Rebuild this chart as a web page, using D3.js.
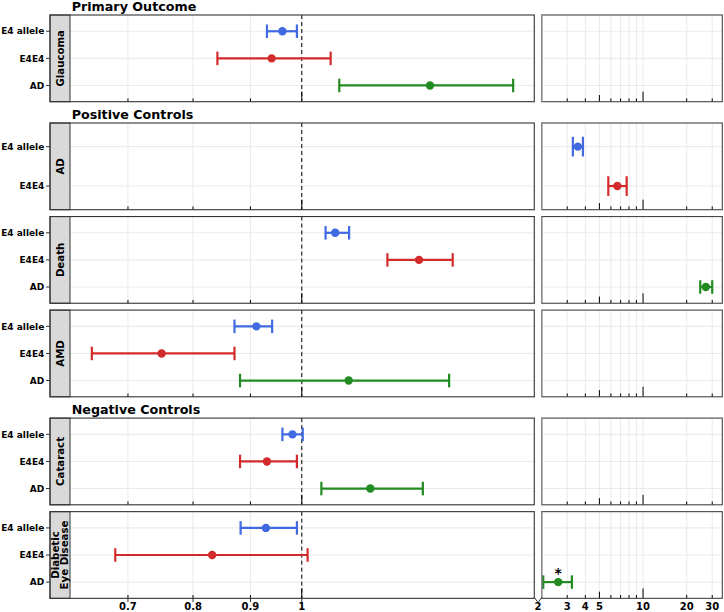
<!DOCTYPE html>
<html><head><meta charset="utf-8">
<script src="https://cdn.jsdelivr.net/npm/d3@7"></script>
<style>
body{margin:0;background:#fff}
text{font-family:"DejaVu Sans",sans-serif;font-weight:bold;fill:#000}
</style>
</head><body><svg id="c" width="724" height="612"></svg>
<script>
// ---------- data ----------
const panelOutcomes = ["Glaucoma","AD","Death","AMD","Cataract","Diabetic Eye Disease"];
const panelStripLines = [["Glaucoma"],["AD"],["Death"],["AMD"],["Cataract"],["Diabetic","Eye Disease"]];
const sectionTitles = ["Primary Outcome","Positive Controls","Negative Controls"];
const sectionFirstPanel = ["Glaucoma","AD","Cataract"];
const exposureLevels = ["E4 allele","E4E4","AD"];
const rowOutcome  = ["Glaucoma","Glaucoma","Glaucoma","AD","AD","Death","Death","Death","AMD","AMD","AMD","Cataract","Cataract","Cataract","Diabetic Eye Disease","Diabetic Eye Disease","Diabetic Eye Disease"];
const rowExposure = ["E4 allele","E4E4","AD","E4 allele","E4E4","E4 allele","E4E4","AD","E4 allele","E4E4","AD","E4 allele","E4E4","AD","E4 allele","E4E4","AD"];
const rowOR   = [0.961,0.940,1.301,3.55,6.65,1.071,1.272,27.1,0.911,0.750,1.101,0.981,0.931,1.151,0.929,0.832,2.60];
const rowLow  = [0.931,0.841,1.080,3.28,5.76,1.050,1.192,24.8,0.871,0.650,0.881,0.961,0.881,1.041,0.882,0.682,2.05];
const rowHigh = [0.990,1.061,1.543,3.85,7.71,1.102,1.363,30.0,0.941,0.871,1.353,1.002,0.990,1.282,0.990,1.012,3.23];
const rowStar = [false,false,false,false,false,false,false,false,false,false,false,false,false,false,false,false,true];
const leftTicks = [0.7,0.8,0.9,1];
const leftLogTicks = [0.7,0.8,0.9,1];
const rightTickLabels = [2,3,4,5,10,20,30];
const rightGrid = [3,4,5,6,7,8,9,10,20,30];
const colors = {"E4 allele":"#4169E1","E4E4":"#D32B2B","AD":"#228B22"};

// ---------- layout ----------
const svg = d3.select("#c");
const stripX0 = 50, stripX1 = 70, leftX1 = 534.3, rightX0 = 541.7, rightX1 = 722.3;
const panelH = 86.7, gap = 6.85, sectionGap = 21.3, firstTop = 15;
const xL = d3.scaleLog().domain([0.6215, 1.6114]).range([stripX1, leftX1]);
const xR = d3.scaleLog().domain([2, 35.2]).range([rightX0, rightX1]);
const breakVal = 1.8;

let tops = [];
let t = firstTop;
panelOutcomes.forEach((o,i)=>{
  if(i>0){ t += panelH + (sectionFirstPanel.includes(o) ? sectionGap : gap); }
  tops.push(t);
});

const gridColor = "#ebebeb", borderColor = "#333";

// section titles
sectionTitles.forEach((s,i)=>{
  const pi = panelOutcomes.indexOf(sectionFirstPanel[i]);
  svg.append("text").attr("x", stripX1 + 1.7).attr("y", tops[pi] - 4.2)
    .attr("font-size", 12.7).text(s);
});

panelOutcomes.forEach((o,pi)=>{
  const top = tops[pi], bot = top + panelH;
  const idx = rowOutcome.map((r,i)=>r===o?i:-1).filter(i=>i>=0);
  const levels = exposureLevels.filter(l => idx.some(i=>rowExposure[i]===l));
  const y = d3.scalePoint().domain(levels).range([top, bot]).padding(0.6);
  const step = y.step();
  const g = svg.append("g");

  // backgrounds
  g.append("rect").attr("x", stripX1).attr("y", top).attr("width", leftX1-stripX1).attr("height", panelH).attr("fill","#fff");
  g.append("rect").attr("x", rightX0).attr("y", top).attr("width", rightX1-rightX0).attr("height", panelH).attr("fill","#fff");

  // gridlines
  levels.forEach(l=>{
    g.append("line").attr("x1", stripX1).attr("x2", leftX1).attr("y1", y(l)).attr("y2", y(l)).attr("stroke", gridColor).attr("stroke-width",1.1);
    g.append("line").attr("x1", rightX0).attr("x2", rightX1).attr("y1", y(l)).attr("y2", y(l)).attr("stroke", gridColor).attr("stroke-width",1.1);
  });
  leftTicks.forEach(v=>{
    g.append("line").attr("x1", xL(v)).attr("x2", xL(v)).attr("y1", top).attr("y2", bot).attr("stroke", gridColor).attr("stroke-width",1.1);
  });
  rightGrid.forEach(v=>{
    g.append("line").attr("x1", xR(v)).attr("x2", xR(v)).attr("y1", top).attr("y2", bot).attr("stroke", gridColor).attr("stroke-width",1.1);
  });

  // dashed reference at 1
  g.append("line").attr("x1", xL(1)).attr("x2", xL(1)).attr("y1", top).attr("y2", bot)
    .attr("stroke","#000").attr("stroke-width",1).attr("stroke-dasharray","4,3");

  // log ticks (inside, bottom)
  leftLogTicks.forEach(v=>{
    const len = (v===1) ? 10 : 3.3;
    g.append("line").attr("x1", xL(v)).attr("x2", xL(v)).attr("y1", bot).attr("y2", bot-len).attr("stroke","#000").attr("stroke-width",1);
  });
  rightGrid.forEach(v=>{
    const len = (v===10) ? 10 : (v===5 ? 6.7 : 3.3);
    g.append("line").attr("x1", xR(v)).attr("x2", xR(v)).attr("y1", bot).attr("y2", bot-len).attr("stroke","#000").attr("stroke-width",1);
  });

  // error bars and points
  idx.forEach(i=>{
    const x = rowOR[i] < breakVal ? xL : xR;
    const yy = y(rowExposure[i]);
    const c = colors[rowExposure[i]];
    const cap = step*0.25;
    g.append("line").attr("x1", x(rowLow[i])).attr("x2", x(rowHigh[i])).attr("y1", yy).attr("y2", yy).attr("stroke", c).attr("stroke-width", 2.2);
    [rowLow[i], rowHigh[i]].forEach(v=>{
      g.append("line").attr("x1", x(v)).attr("x2", x(v)).attr("y1", yy-cap).attr("y2", yy+cap).attr("stroke", c).attr("stroke-width", 2.2);
    });
    g.append("circle").attr("cx", x(rowOR[i])).attr("cy", yy).attr("r", 4.2).attr("fill", c);
    if(rowStar[i]){
      g.append("text").attr("x", x(rowOR[i])).attr("y", yy-4.5).attr("text-anchor","middle").attr("font-size",14).text("*");
    }
  });

  // strip
  g.append("rect").attr("x", stripX0).attr("y", top).attr("width", stripX1-stripX0).attr("height", panelH)
    .attr("fill","#d9d9d9").attr("stroke", borderColor).attr("stroke-width",1);
  const lines = panelStripLines[pi];
  const st = g.append("text").attr("transform", `translate(${(stripX0+stripX1)/2},${top+panelH/2}) rotate(-90)`)
    .attr("text-anchor","middle").attr("font-size",10.2);
  const lh = 9.3;
  lines.forEach((ln,k)=>{
    st.append("tspan").attr("x",0).attr("y", (k-(lines.length-1)/2)*lh + 3.6).text(ln);
  });

  // borders
  g.append("rect").attr("x", stripX0).attr("y", top).attr("width", leftX1-stripX0).attr("height", panelH)
    .attr("fill","none").attr("stroke", borderColor).attr("stroke-width",1.1);
  g.append("rect").attr("x", rightX0).attr("y", top).attr("width", rightX1-rightX0).attr("height", panelH)
    .attr("fill","none").attr("stroke", "#444").attr("stroke-width",1.1);
  g.append("line").attr("x1", rightX0).attr("x2", rightX0).attr("y1", top).attr("y2", bot).attr("stroke","#8a8a8a").attr("stroke-width",1.3);

  // y axis
  levels.forEach(l=>{
    g.append("line").attr("x1", 46).attr("x2", stripX0).attr("y1", y(l)).attr("y2", y(l)).attr("stroke", borderColor).attr("stroke-width",1);
    g.append("text").attr("x", 44.3).attr("y", y(l)).attr("dy","0.35em").attr("text-anchor","end").attr("font-size",9).text(l);
  });

  // bottom axis on last panel
  if(pi === panelOutcomes.length-1){
    const fmt = d => String(d);
    leftTicks.forEach(v=>{
      g.append("line").attr("x1", xL(v)).attr("x2", xL(v)).attr("y1", bot).attr("y2", bot+3.7).attr("stroke", borderColor).attr("stroke-width",1);
      g.append("text").attr("x", xL(v)).attr("y", 610.3).attr("text-anchor","middle").attr("font-size",10).text(fmt(v));
    });
    rightTickLabels.forEach(v=>{
      const xx = v===2 ? (leftX1+rightX0)/2 : xR(v);
      g.append("text").attr("x", xx).attr("y", 610.3).attr("text-anchor","middle").attr("font-size",10).text(fmt(v));
    });
    // break marks
    const mid = (leftX1+rightX0)/2;
    g.append("path").attr("d", `M${leftX1},${bot-1}L${mid-0.5},${bot+3.5}M${rightX0},${bot-1}L${mid+0.5},${bot+3.5}`)
      .attr("stroke", borderColor).attr("stroke-width",1).attr("fill","none");
  }
});
</script>
</body></html>
